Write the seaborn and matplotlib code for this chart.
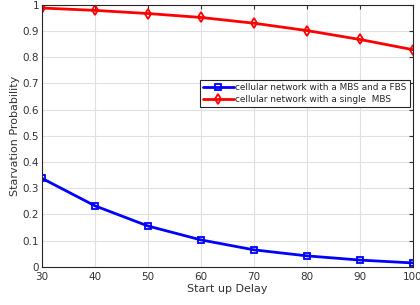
import matplotlib
matplotlib.use("Agg")
import matplotlib.pyplot as plt
import seaborn as sns
import pandas as pd

delay = [30, 40, 50, 60, 70, 80, 90, 100]
mbs_fbs = [0.338, 0.233, 0.156, 0.103, 0.065, 0.042, 0.026, 0.015]
single_mbs = [0.988, 0.979, 0.967, 0.952, 0.930, 0.902, 0.868, 0.829]

lab_a = "cellular network with a MBS and a FBS"
lab_b = "cellular network with a single  MBS"

df_a = pd.DataFrame({"delay": delay, "p": mbs_fbs})
df_b = pd.DataFrame({"delay": delay, "p": single_mbs})

sns.set_style("whitegrid")
plt.rcParams["font.family"] = ["DejaVu Sans"]

fig, ax = plt.subplots(figsize=(4.2, 3.05), dpi=100)
for d, lab, col, mk, ms in [(df_a, lab_a, "#0000ff", "s", 4.5), (df_b, lab_b, "#ff0000", "d", 5.5)]:
    sns.lineplot(data=d, x="delay", y="p", label=lab, color=col, marker=mk,
                 linewidth=2, markersize=ms, markerfacecolor="none",
                 markeredgecolor=col, markeredgewidth=1.3, ax=ax)

ax.set_xlim(30, 100)
ax.set_ylim(0, 1)
ax.set_xticks(range(30, 101, 10))
ax.set_yticks([i / 10 for i in range(11)])
ax.set_yticklabels(["0", "0.1", "0.2", "0.3", "0.4", "0.5", "0.6", "0.7", "0.8", "0.9", "1"])
ax.set_xlabel("Start up Delay", fontsize=8, color="#333333", labelpad=1)
ax.set_ylabel("Starvation Probability", fontsize=8, color="#333333", labelpad=2)
ax.tick_params(labelsize=7.5, colors="#333333", direction="in", length=3,
               top=True, right=True, pad=2)
ax.tick_params(axis="x", pad=4)
ax.grid(True, color="#e0e0e0", linewidth=0.8)
for s in ax.spines.values():
    s.set_visible(True)
    s.set_color("#262626")
    s.set_linewidth(0.8)

leg = ax.legend(loc="upper right", bbox_to_anchor=(1.0, 0.725), fontsize=6.4,
                frameon=True, fancybox=False, borderpad=0.4, handlelength=3.4,
                handletextpad=0.2, labelspacing=0.3, borderaxespad=0.3)
leg.get_frame().set_edgecolor("#262626")
leg.get_frame().set_linewidth(0.8)
leg.get_frame().set_alpha(1)

fig.subplots_adjust(left=0.1, right=0.983, top=0.984, bottom=0.125)
fig.savefig("out.png", dpi=100)
